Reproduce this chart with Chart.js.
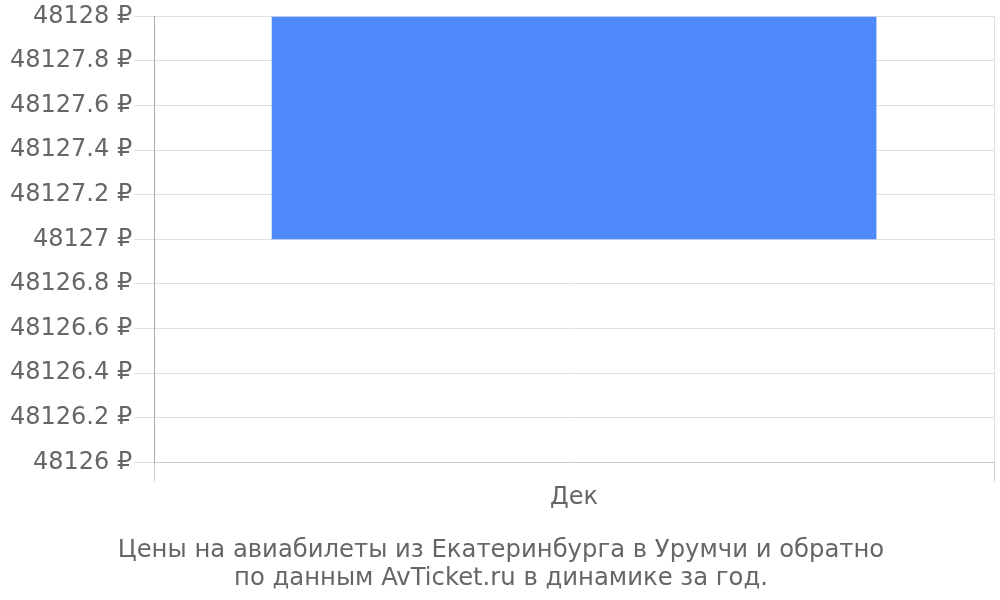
<!DOCTYPE html>
<html>
<head>
<meta charset="utf-8">
<script src="https://cdn.jsdelivr.net/npm/chart.js@4"></script>
<style>
  html, body { margin: 0; padding: 0; background: #fff; }
  #wrap { width: 1000px; height: 600px; }
</style>
</head>
<body>
<div id="wrap"><canvas id="priceChart" width="1000" height="600"></canvas></div>
<script>
// Chart data
const months = ['Дек'];
const priceRanges = [[48127, 48128]];
const yMin = 48126;
const yMax = 48128;
const yStep = 0.2;
const titleLines = ['Цены на авиабилеты из Екатеринбурга в Урумчи и обратно', 'по данным AvTicket.ru в динамике за год.'];

document.addEventListener('DOMContentLoaded', function() {
    const ctx = document.getElementById('priceChart').getContext('2d');
    Chart.defaults.font.family = '"DejaVu Sans", sans-serif';
    Chart.defaults.color = '#666';

    new Chart(ctx, {
        type: 'bar',
        data: {
            labels: months,
            datasets: [{
                data: priceRanges,
                backgroundColor: '#4d89f9',
                borderWidth: 0,
                categoryPercentage: 0.8,
                barPercentage: 0.9
            }]
        },
        options: {
            responsive: false,
            animation: false,
            layout: { padding: { left: 8, right: 6, top: -2, bottom: 7 } },
            plugins: {
                legend: { display: false },
                tooltip: { enabled: false },
                title: {
                    display: true,
                    position: 'bottom',
                    text: titleLines,
                    color: '#666',
                    font: { size: 24.3, weight: 'normal', lineHeight: 1.17 },
                    padding: { top: 22, bottom: 0 }
                }
            },
            scales: {
                x: {
                    grid: { color: '#e0e0e0', tickLength: 19, tickColor: '#ccc' },
                    border: { color: '#ccc' },
                    ticks: { font: { size: 24 }, color: '#666', padding: 2 }
                },
                y: {
                    min: yMin,
                    max: yMax,
                    grid: { color: '#e0e0e0', tickLength: 20, tickColor: '#e0e0e0' },
                    border: { color: '#aaa' },
                    ticks: {
                        stepSize: yStep,
                        font: { size: 24 },
                        color: '#666',
                        padding: 2,
                        callback: function(v) {
                            return (Math.round(v * 10) / 10) + ' ₽';
                        }
                    }
                }
            }
        }
    });
});
</script>
</body>
</html>
